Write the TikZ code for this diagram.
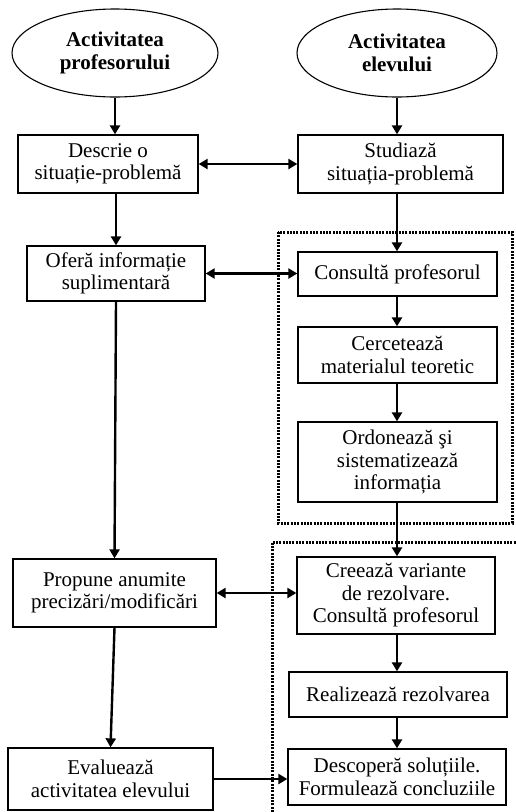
\documentclass[tikz,border=0pt]{standalone}
\usepackage{fontspec}
\setmainfont{Liberation Serif}
\usetikzlibrary{arrows.meta,shapes.geometric}
\begin{document}
\begin{tikzpicture}[x=1pt,y=-1pt,
  every node/.style={font=\fontsize{21}{22.5}\selectfont, align=center, inner sep=0pt},
  oval/.style={ellipse, draw, line width=1.1pt, font=\fontsize{21}{22.5}\selectfont\bfseries},
  stepbox/.style={rectangle, draw, line width=1.3pt},
  arr/.style={line width=2.4pt, -{Triangle[length=9pt,width=10pt]}},
  darr/.style={line width=2.4pt, {Triangle[length=9pt,width=10pt]}-{Triangle[length=9pt,width=10pt]}},
  dots/.style={line width=3pt, dash pattern=on 2pt off 1.3pt}
]
\useasboundingbox (0,0) rectangle (516,812);

\node[oval, minimum width=206, minimum height=88] (e1) at (115,53) {Activitatea\\profesorului};
\node[oval, minimum width=200, minimum height=88] (e2) at (397,53) {Activitatea\\elevului};

\node[stepbox, minimum width=180, minimum height=58] (d1) at (108,164) {Descrie o\\situație-problemă};
\node[stepbox, minimum width=205, minimum height=58] (s1) at (400.5,164) {Studiază\\situația-problemă};

\node[stepbox, minimum width=178, minimum height=55] (o1) at (116,273.5) {Oferă informație\\suplimentară};
\node[stepbox, minimum width=199, minimum height=44] (c1) at (397.5,274) {Consultă profesorul};
\node[stepbox, minimum width=199, minimum height=56] (c2) at (397.5,355) {Cercetează\\materialul teoretic};
\node[stepbox, minimum width=199, minimum height=80] (c3) at (397.5,462) {Ordonează şi\\sistematizează\\informația};

\node[stepbox, minimum width=203, minimum height=68] (p1) at (114.5,593) {Propune anumite\\precizări/modificări};
\node[stepbox, minimum width=198, minimum height=77] (c4) at (396,595.5) {Creează variante\\de rezolvare.\\Consultă profesorul};
\node[stepbox, minimum width=218, minimum height=45] (c5) at (398,694.5) {Realizează rezolvarea};
\node[stepbox, minimum width=218, minimum height=56] (c6) at (397,777) {Descoperă soluțiile.\\Formulează concluziile};
\node[stepbox, minimum width=205, minimum height=62] (ev) at (110.5,779) {Evaluează\\activitatea elevului};

% dotted groups
\draw[dots] (278,232) rectangle (512,523);
\draw[dots] (272,812) -- (272,542) -- (516,542);

% left column
\draw[arr] (e1.south) -- (e1.south |- d1.north);
\draw[arr] (o1.north |- d1.south) -- (o1.north);
\draw[arr] (o1.south) -- (p1.north);
\draw[arr] (p1.south) -- (ev.north);

% right column
\coordinate (rx) at (397,0);
\draw[arr] (e2.south) -- (e2.south |- s1.north);
\draw[arr] (rx |- s1.south) -- (rx |- c1.north);
\draw[arr] (rx |- c1.south) -- (rx |- c2.north);
\draw[arr] (rx |- c2.south) -- (rx |- c3.north);
\draw[arr] (rx |- c3.south) -- (rx |- c4.north);
\draw[arr] (rx |- c4.south) -- (rx |- c5.north);
\draw[arr] (rx |- c5.south) -- (rx |- c6.north);

% horizontal links
\draw[darr] (d1.east) -- (d1.east -| s1.west);
\draw[darr] (o1.east) -- (o1.east -| c1.west);
\draw[darr] (p1.east) -- (p1.east -| c4.west);
\draw[arr] (ev.east) -- (ev.east -| c6.west);
\end{tikzpicture}
\end{document}
